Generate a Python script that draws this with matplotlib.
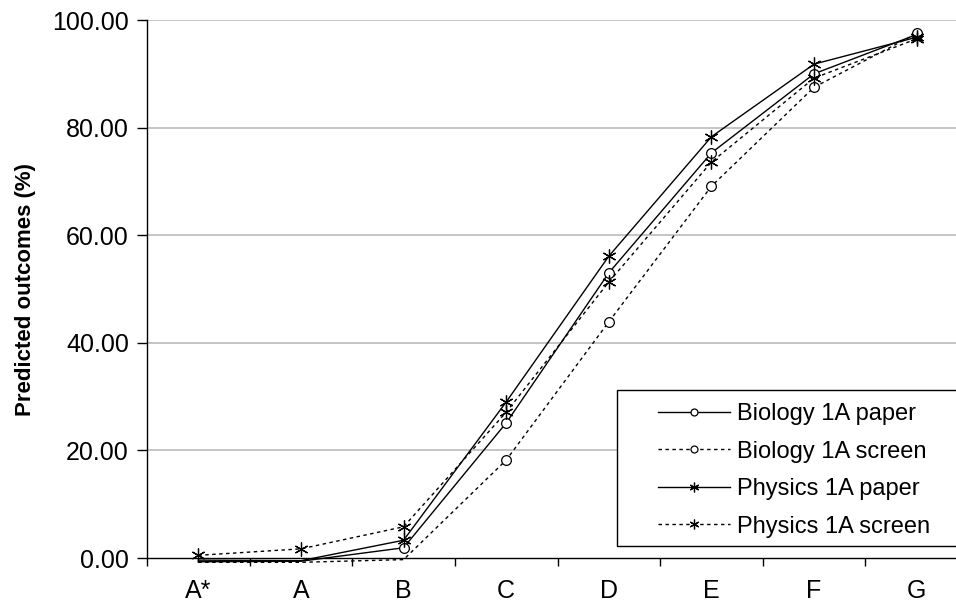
import matplotlib.pyplot as plt
from matplotlib.patches import Rectangle
import numpy as np

plt.rcParams['font.family'] = ['Liberation Sans', 'DejaVu Sans']

grades = ['A*', 'A', 'B', 'C', 'D', 'E', 'F', 'G']
bio_paper = [-0.7, -0.6, 1.9, 25.1, 53.0, 75.3, 90.0, 97.3]
bio_screen = [-0.8, -0.8, -0.3, 18.2, 43.9, 69.1, 87.5, 97.5]
phys_paper = [-0.4, -0.5, 3.3, 29.0, 56.1, 78.3, 91.8, 96.8]
phys_screen = [0.5, 1.7, 5.8, 27.1, 51.3, 73.6, 89.2, 96.5]

series = [
    ("Biology 1A paper", bio_paper, '-', 'o'),
    ("Biology 1A screen", bio_screen, (0, (2.5, 2.5)), 'o'),
    ("Physics 1A paper", phys_paper, '-', (6, 2, 0)),
    ("Physics 1A screen", phys_screen, (0, (2.5, 2.5)), (6, 2, 0)),
]

fig = plt.figure(figsize=(9.56, 6.03), dpi=100)
ax = fig.add_axes([147 / 956, 45 / 603, 821 / 956, 538 / 603])

x = np.arange(len(grades))
for label, vals, ls, mk in series:
    vals = np.array(vals)
    # markers are only shown where the value sits above the axis
    show = [i for i, v in enumerate(vals) if v > 0]
    msize = 7 if mk == 'o' else 10
    ax.plot(x, vals, color='black', lw=1.0, ls=ls, marker=mk, markevery=show,
            markersize=msize, markerfacecolor='white', markeredgecolor='black',
            markeredgewidth=0.9, clip_on=False, label=label)

ax.set_xlim(-0.5, len(grades) - 0.5)
ax.set_ylim(0, 100)
ax.set_yticks(np.arange(0, 101, 20))
ax.set_yticklabels([f"{v:.2f}" for v in np.arange(0, 101, 20)])
ax.set_xticks(x)
ax.set_xticklabels(grades)
ax.set_xticks(np.arange(-0.5, len(grades), 1.0), minor=True)
ax.tick_params(axis='x', which='major', length=0, pad=15, labelsize=18)
ax.tick_params(axis='x', which='minor', length=6, width=1, direction='out')
ax.tick_params(axis='y', length=7, width=1, direction='out', pad=6, labelsize=18)

for v in range(20, 101, 20):
    ax.axhline(v, color='#c0c0c0', lw=1.3, zorder=0)

ax.spines['top'].set_visible(False)
ax.spines['right'].set_visible(False)
ax.spines['left'].set_linewidth(1)
ax.spines['bottom'].set_linewidth(1)

ax.set_ylabel("Predicted outcomes (%)", fontsize=16, fontweight='bold', labelpad=11.5)

# legend box runs off the right edge, like the original
ax.add_patch(Rectangle((617 / 956, (603 - 546) / 603), 400 / 956, 156 / 603,
                       transform=fig.transFigure, facecolor='white',
                       edgecolor='black', lw=1, zorder=4, clip_on=False))
leg = ax.legend(loc='upper left', bbox_to_anchor=(658 / 956, (603 - 403) / 603),
                bbox_transform=fig.transFigure, fontsize=17, handlelength=3.05,
                frameon=False, borderpad=0, labelspacing=0.66,
                handletextpad=0.3, borderaxespad=0)
leg.set_zorder(5)
for h in leg.legend_handles:
    h.set_markersize(5 if h.get_marker() == 'o' else 7)

fig.savefig("out.png", dpi=100)
